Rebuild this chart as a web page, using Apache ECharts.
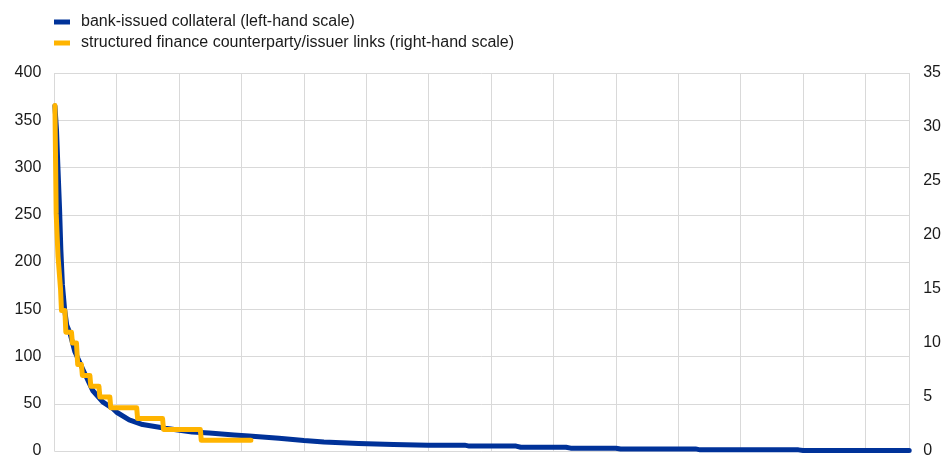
<!DOCTYPE html>
<html>
<head>
<meta charset="utf-8">
<script src="https://cdn.jsdelivr.net/npm/echarts@6/dist/echarts.min.js"></script>
<style>
html,body{margin:0;padding:0;background:#fff;}
#chart{width:944px;height:459px;}
</style>
</head>
<body>
<div id="chart"></div>
<script>
// Series names
var seriesNames = ['bank-issued collateral (left-hand scale)', 'structured finance counterparty/issuer links (right-hand scale)'];
// Left-axis ticks and right-axis ticks
var leftTicks = [0, 50, 100, 150, 200, 250, 300, 350, 400];
var rightTicks = [0, 5, 10, 15, 20, 25, 30, 35];
// Ranked position (x) and values of bank-issued collateral
var blueX = [0.2, 0.7, 1.2, 1.7, 2.1, 2.6, 3.3, 4, 5, 6.6, 9.2, 12.3, 15.5, 18.7, 20, 24, 28.3, 35.6, 44.2, 49.7, 57.6, 62.4, 72, 80, 86.4, 97.5, 108.7, 119.8, 131.5, 133, 148, 149.5, 164, 165.5, 180, 181.5, 205.5, 207, 238.5, 240, 274];
var blueY = [365, 340, 297, 255, 213, 176, 150, 133, 125, 105, 86, 64, 52, 45, 41, 33, 28, 24, 20, 19, 17, 16, 13.5, 11, 9.5, 8, 7, 6.2, 6.2, 5.2, 5.2, 4, 4, 3, 3, 2.2, 2.2, 1.2, 1.2, 0.5, 0.5];
// Ranked position (x) and values of structured finance links
var orangeX = [0.2, 0.6, 1.2, 2.0, 2.3, 3.4, 3.7, 5.5, 5.8, 7.1, 7.5, 8.7, 9.0, 11.4, 11.7, 14.3, 14.6, 17.8, 18.1, 26.4, 26.7, 34.7, 35.0, 46.8, 47.1, 63.0];
var orangeY = [32, 22, 18, 15, 13, 13, 11, 11, 10, 10, 8, 8, 7, 7, 6, 6, 5, 5, 4, 4, 3, 3, 2, 2, 1, 1];

function pairs(xs, ys){ return xs.map(function(x,i){ return [x, ys[i]]; }); }

var chart = echarts.init(document.getElementById('chart'), null, {renderer:'canvas'});
var font = 'Liberation Sans, Arial, sans-serif';
chart.setOption({
  animation: false,
  backgroundColor: '#ffffff',
  textStyle: {fontFamily: font},
  legend: {
    orient: 'vertical',
    left: 54, top: 14, padding: 0,
    itemWidth: 16, itemHeight: 5, itemGap: 5,
    icon: 'rect',
    textStyle: {fontFamily: font, fontSize: 16, color: '#1a1a1a', padding: [0,0,0,6], lineHeight: 16},
    data: seriesNames
  },
  grid: {left: 54.3, right: 30.7, top: 73, bottom: 8, containLabel: false},
  xAxis: {
    type: 'value', min: 0, max: 274, interval: 20,
    axisLine: {show: false}, axisTick: {show: false}, axisLabel: {show: false},
    splitLine: {show: true, lineStyle: {color: '#d9d9d9', width: 1}}
  },
  yAxis: [{
    type: 'value', min: leftTicks[0], max: leftTicks[leftTicks.length-1], interval: leftTicks[1]-leftTicks[0],
    axisLine: {show: false}, axisTick: {show: false},
    axisLabel: {fontFamily: font, fontSize: 16, color: '#1a1a1a', margin: 13},
    splitLine: {show: true, lineStyle: {color: '#d9d9d9', width: 1}}
  },{
    type: 'value', min: rightTicks[0], max: rightTicks[rightTicks.length-1], interval: rightTicks[1]-rightTicks[0],
    position: 'right',
    axisLine: {show: false}, axisTick: {show: false},
    axisLabel: {fontFamily: font, fontSize: 16, color: '#1a1a1a', margin: 14},
    splitLine: {show: false}
  }],
  series: [{
    name: seriesNames[0], type: 'line', yAxisIndex: 0,
    data: pairs(blueX, blueY), showSymbol: false, symbol: 'none',
    lineStyle: {color: '#003299', width: 5, cap: 'round', join: 'round'},
    itemStyle: {color: '#003299'}, z: 2
  },{
    name: seriesNames[1], type: 'line', yAxisIndex: 1,
    data: pairs(orangeX, orangeY), showSymbol: false, symbol: 'none',
    lineStyle: {color: '#FFB400', width: 5, cap: 'round', join: 'round'},
    itemStyle: {color: '#FFB400'}, z: 3
  }]
});
</script>
</body>
</html>
